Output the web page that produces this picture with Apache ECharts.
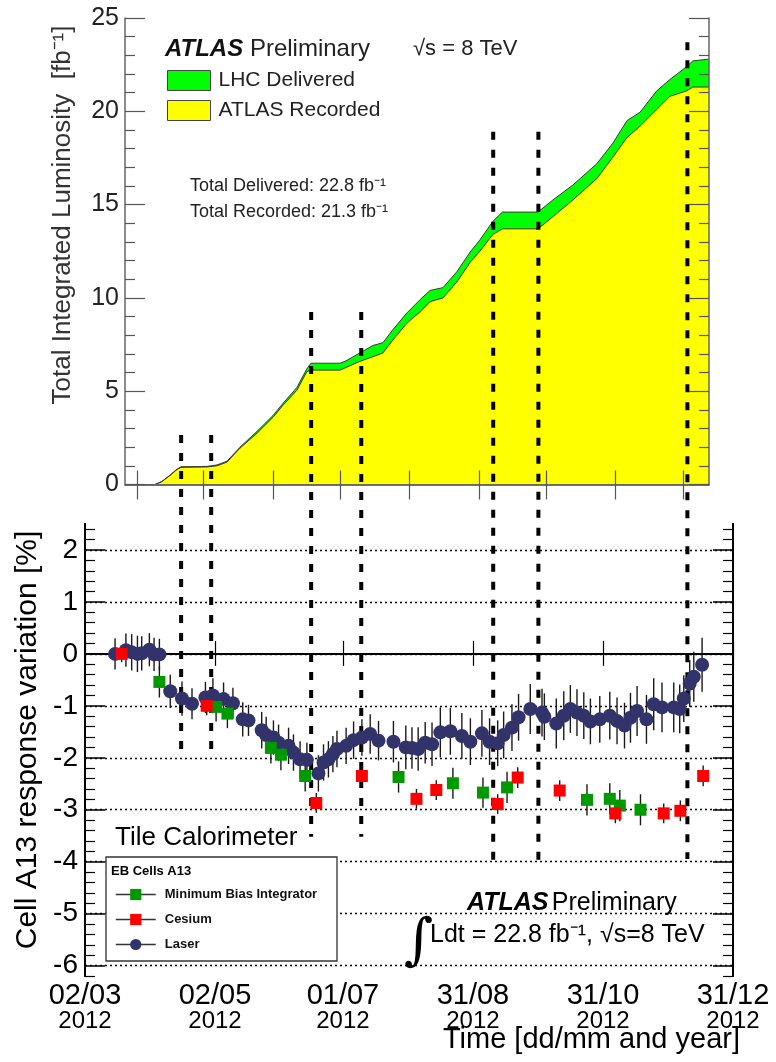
<!DOCTYPE html>
<html><head><meta charset="utf-8">
<script src="https://cdn.jsdelivr.net/npm/echarts@6/dist/echarts.min.js"></script>
<style>html,body{margin:0;padding:0;background:#fff}#c{width:776px;height:1062px}</style>
</head><body><div id="c"></div>
<script>
const FONT = '"Liberation Sans", Arial, Helvetica, sans-serif';

// ---------- Top panel: integrated luminosity (x in days since 02/03/2012) ----------
const lumiDays      = [18.8, 32.9, 36.0, 39.9, 43.2, 45.1, 57.3, 62.0, 66.7, 72.8, 80.8, 88.3, 93.0, 99.5, 104.2, 106.1, 119.7, 122.1, 129.1, 135.2, 139.9, 144.6, 151.2, 157.3, 162.0, 168.1, 174.6, 180.8, 185.4, 191.5, 196.0, 212.7, 219.7, 229.1, 240.4, 247.9, 254.5, 260.6, 268.5, 274.6, 282.6, 285.4, 293.0];
const lumiDelivered = [0, 0, 0.15, 0.5, 0.82, 0.95, 0.97, 1.05, 1.25, 2.0, 2.85, 3.7, 4.35, 5.2, 6.2, 6.5, 6.5, 6.6, 7.05, 7.45, 7.6, 8.3, 9.2, 9.9, 10.4, 10.55, 11.4, 12.45, 13.1, 14.1, 14.6, 14.6, 15.25, 16.05, 17.2, 18.3, 19.5, 19.95, 21.1, 21.7, 22.4, 22.7, 22.8];
const lumiRecorded  = [0, 0, 0.15, 0.48, 0.8, 0.92, 0.94, 1.0, 1.2, 1.95, 2.75, 3.6, 4.25, 5.05, 6.05, 6.13, 6.13, 6.25, 6.6, 6.85, 7.05, 7.75, 8.65, 9.25, 9.8, 10.0, 10.85, 11.9, 12.5, 13.4, 13.7, 13.7, 14.35, 15.25, 16.4, 17.55, 18.6, 19.2, 20.1, 20.8, 21.1, 21.3, 21.3];
const lumiTickDays  = [24.4, 55.6, 88.3, 119.7, 152.1, 185.0, 216.4, 248.8, 280.8];
const lumiYTicks    = [0, 5, 10, 15, 20, 25];

// ---------- Bottom panel: Cell A13 response variation ----------
const laserDays = [14.1,19.2,21.9,24.6,26.6,30.2,32.4,34.9,40.0,45.5,50.2,56.5,60.0,65.0,69.4,74.0,76.7,82.9,85.0,88.4,90.8,95.5,97.8,100.9,104.1,109.5,111.9,114.2,116.3,118.2,122.5,126.0,129.9,133.8,137.7,144.7,150.5,153.4,156.3,159.6,162.8,166.7,171.4,176.8,180.8,186.2,189.8,193.6,196.4,200.3,203.4,208.9,214.4,215.5,221.1,224.6,227.7,230.8,234.0,237.1,241.5,246.2,249.6,253.1,255.9,259.0,263.4,266.8,270.7,276.2,279.0,280.9,283.7,285.6,289.5];
const laserVals = [0.00,0.07,0.03,0.00,0.01,0.08,-0.01,-0.01,-0.72,-0.86,-0.96,-0.84,-0.80,-0.87,-0.95,-1.26,-1.28,-1.47,-1.56,-1.61,-1.71,-1.77,-1.90,-2.03,-2.04,-2.30,-2.09,-2.03,-1.93,-1.83,-1.77,-1.66,-1.61,-1.54,-1.67,-1.69,-1.80,-1.81,-1.83,-1.71,-1.74,-1.51,-1.49,-1.58,-1.69,-1.53,-1.69,-1.72,-1.56,-1.42,-1.22,-1.06,-1.13,-1.21,-1.34,-1.19,-1.06,-1.13,-1.19,-1.30,-1.26,-1.19,-1.29,-1.38,-1.23,-1.10,-1.26,-0.97,-1.03,-1.03,-1.06,-0.86,-0.57,-0.44,-0.21];
const laserErrs = [0.30,0.32,0.35,0.35,0.33,0.32,0.32,0.30,0.32,0.33,0.30,0.30,0.33,0.32,0.30,0.33,0.30,0.35,0.35,0.33,0.35,0.35,0.35,0.35,0.33,0.35,0.35,0.35,0.35,0.35,0.35,0.36,0.35,0.38,0.38,0.40,0.42,0.40,0.42,0.40,0.42,0.48,0.45,0.44,0.45,0.45,0.45,0.44,0.45,0.45,0.45,0.48,0.46,0.45,0.48,0.47,0.46,0.45,0.45,0.44,0.45,0.46,0.45,0.44,0.48,0.48,0.47,0.50,0.48,0.48,0.47,0.45,0.45,0.48,0.52];
const mbiDays = [34.9, 61.5, 66.8, 87.2, 91.9, 103.3, 147.1, 172.6, 186.7, 198.0, 235.5, 246.2, 250.9, 260.6];
const mbiVals = [-0.54, -1.02, -1.15, -1.81, -1.94, -2.35, -2.37, -2.49, -2.67, -2.57, -2.81, -2.79, -2.92, -3.00];
const mbiErrs = [0.30, 0.28, 0.28, 0.30, 0.30, 0.30, 0.30, 0.30, 0.29, 0.30, 0.30, 0.30, 0.30, 0.30];
const csDays = [17.2, 57.1, 108.5, 129.9, 155.5, 164.8, 193.6, 203.0, 222.7, 248.8, 271.5, 279.3, 290.0];
const csVals = [0.00, -1.00, -2.87, -2.35, -2.79, -2.62, -2.89, -2.38, -2.63, -3.07, -3.07, -3.02, -2.35];
const csErrs = [0.16, 0.18, 0.19, 0.19, 0.19, 0.19, 0.19, 0.20, 0.20, 0.19, 0.19, 0.20, 0.20];

const dateTickDays   = [0, 61, 121, 182, 243, 304];
const dateTickLabels = ['02/03', '02/05', '01/07', '31/08', '31/10', '31/12'];
const yearLabels     = ['2012', '2012', '2012', '2012', '2012', '2012'];
const pctTicks       = [-6, -5, -4, -3, -2, -1, 0, 1, 2];

// Dashed event markers (dates)
const eventDays = [45.1, 59.2, 106.1, 129.6, 191.5, 212.7, 282.6];

// ---------- styling / layout ----------
const eventTopLumi  = [2.65, 2.65, 9.25, 9.25, 18.9, 18.9, 23.7];
const eventBotPct   = [-1.91, -1.91, -3.52, -3.52, -4.04, -4.04, -3.95];
const pctMin = -6.2, pctMax = 2.5;
const minorPct = [];
for (let i = Math.round(pctMin * 5); i <= Math.round(pctMax * 5); i++) {
  const v = +(i / 5).toFixed(1);
  if (Math.abs(v - Math.round(v)) > 1e-6) minorPct.push(v);
}

const pairs = (xs, ys) => xs.map((x, i) => [x, ys[i]]);
const bars = (xs, ys, es) => xs.map((x, i) => [x, ys[i] - es[i], ys[i] + es[i]]);

function errSeries(data, z) {
  return {
    type: 'custom', xAxisIndex: 2, yAxisIndex: 2, z: z, silent: true,
    data: data,
    encode: { x: 0, y: [1, 2] },
    renderItem: function (params, api) {
      const p1 = api.coord([api.value(0), api.value(1)]);
      const p2 = api.coord([api.value(0), api.value(2)]);
      return { type: 'line', shape: { x1: p1[0], y1: p1[1], x2: p2[0], y2: p2[1] },
               style: { stroke: '#1a1a1a', lineWidth: 1.4 } };
    }
  };
}

const chart = echarts.init(document.getElementById('c'));

const topAxisLine = { show: true, lineStyle: { color: '#666', width: 1.5 } };
const botAxisLine = { show: true, lineStyle: { color: '#000', width: 2 } };

const option = {
  animation: false,
  backgroundColor: '#fff',
  textStyle: { fontFamily: FONT },
  grid: [
    { left: 125, top: 18, width: 584, height: 466.5, containLabel: false },
    { left: 85, top: 524, width: 648, height: 452, containLabel: false }
  ],
  xAxis: [
    { gridIndex: 0, type: 'value', min: 18.8, max: 293, position: 'bottom', z: 4,
      axisLine: topAxisLine, axisLabel: { show: false }, splitLine: { show: false },
      axisTick: { show: true, inside: true, length: 14, customValues: lumiTickDays, lineStyle: { color: '#555', width: 1.2 } } },
    { gridIndex: 0, type: 'value', min: 18.8, max: 293, position: 'top', z: 4,
      axisLine: topAxisLine, axisLabel: { show: false }, splitLine: { show: false },
      axisTick: { show: true, inside: true, length: 15, customValues: lumiTickDays, lineStyle: { color: '#555', width: 1.2 } } },
    { gridIndex: 1, type: 'value', min: 0, max: 304, position: 'bottom', z: 4,
      axisLine: botAxisLine, splitLine: { show: false },
      axisTick: { show: true, inside: true, length: 13, customValues: dateTickDays, lineStyle: { color: '#000', width: 1.2 } },
      axisLabel: { show: true, customValues: dateTickDays, margin: 6, color: '#000', fontFamily: FONT,
        formatter: function (v) {
          const i = dateTickDays.indexOf(v);
          return '{d|' + dateTickLabels[i] + '}\n{y|' + yearLabels[i] + '}';
        },
        rich: { d: { fontSize: 29, lineHeight: 27, fontFamily: FONT, color: '#000' },
                y: { fontSize: 24, lineHeight: 24, fontFamily: FONT, color: '#000' } } } },
    { gridIndex: 1, type: 'value', min: 0, max: 304, position: 'top', z: 4,
      axisLine: botAxisLine, splitLine: { show: false }, axisLabel: { show: false },
      axisTick: { show: true, inside: true, length: 12, customValues: dateTickDays, lineStyle: { color: '#000', width: 1.2 } } }
  ],
  yAxis: [
    { gridIndex: 0, type: 'value', min: 0, max: 25, interval: 5, position: 'left', z: 4,
      axisLine: topAxisLine, splitLine: { show: false },
      axisLabel: { show: true, customValues: lumiYTicks, fontSize: 25, color: '#222', margin: 6, fontFamily: FONT },
      axisTick: { show: true, inside: true, length: 20, lineStyle: { color: '#555', width: 1.2 } },
      minorTick: { show: true, splitNumber: 5, length: 10, lineStyle: { color: '#555', width: 1.2 } } },
    { gridIndex: 0, type: 'value', min: 0, max: 25, interval: 5, position: 'right', z: 4,
      axisLine: topAxisLine, splitLine: { show: false }, axisLabel: { show: false },
      axisTick: { show: true, inside: true, length: 20, lineStyle: { color: '#555', width: 1.2 } },
      minorTick: { show: true, splitNumber: 5, length: 10, lineStyle: { color: '#555', width: 1.2 } } },
    { gridIndex: 1, type: 'value', min: pctMin, max: pctMax, position: 'left', z: 4,
      axisLine: botAxisLine,
      axisLabel: { show: true, customValues: pctTicks, fontSize: 28, color: '#000', margin: 7, fontFamily: FONT },
      axisTick: { show: true, inside: true, length: 20, customValues: pctTicks, lineStyle: { color: '#000', width: 1.5 } },
      splitLine: { show: true, lineStyle: { color: '#000', width: 1.3, type: [2, 3] } } },
    { gridIndex: 1, type: 'value', min: pctMin, max: pctMax, position: 'left', z: 4,
      axisLine: botAxisLine, axisLabel: { show: false }, splitLine: { show: false },
      axisTick: { show: true, inside: true, length: 10, customValues: minorPct, lineStyle: { color: '#000', width: 1.2 } } },
    { gridIndex: 1, type: 'value', min: pctMin, max: pctMax, position: 'right', z: 4,
      axisLine: botAxisLine, axisLabel: { show: false }, splitLine: { show: false },
      axisTick: { show: true, inside: true, length: 20, customValues: pctTicks, lineStyle: { color: '#000', width: 1.5 } } },
    { gridIndex: 1, type: 'value', min: pctMin, max: pctMax, position: 'right', z: 4,
      axisLine: botAxisLine, axisLabel: { show: false }, splitLine: { show: false },
      axisTick: { show: true, inside: true, length: 10, customValues: minorPct, lineStyle: { color: '#000', width: 1.2 } } }
  ],
  legend: [
    { data: ['LHC Delivered', 'ATLAS Recorded'], orient: 'vertical', left: 167, top: 70,
      icon: 'rect', itemWidth: 43, itemHeight: 20, itemGap: 9, padding: 0, z: 20,
      itemStyle: { borderColor: '#444', borderWidth: 1 },
      textStyle: { fontSize: 21, color: '#222', fontFamily: FONT, padding: [0, 0, 0, 3] } },
    { data: ['Minimum Bias Integrator', 'Cesium', 'Laser'], orient: 'vertical', left: 115, top: 888,
      itemWidth: 40, itemHeight: 14, itemGap: 12, padding: 0, z: 20,
      lineStyle: { color: '#333', width: 1.5, opacity: 1, type: 'solid' },
      itemStyle: { borderWidth: 0 },
      textStyle: { fontSize: 13, fontWeight: 'bold', color: '#111', fontFamily: FONT, padding: [0, 0, 0, 4] } }
  ],
  series: [
    { name: 'LHC Delivered', type: 'line', xAxisIndex: 0, yAxisIndex: 0, z: 1, symbol: 'none',
      data: pairs(lumiDays, lumiDelivered), color: '#00ff00',
      lineStyle: { color: '#3a3a3a', width: 1 }, areaStyle: { color: '#00ff00', opacity: 1 } },
    { name: 'ATLAS Recorded', type: 'line', xAxisIndex: 0, yAxisIndex: 0, z: 1, symbol: 'none',
      data: pairs(lumiDays, lumiRecorded), color: '#ffff00',
      lineStyle: { color: '#3a3a3a', width: 1 }, areaStyle: { color: '#ffff00', opacity: 1 } },
    errSeries(bars(laserDays, laserVals, laserErrs), 5),
    errSeries(bars(mbiDays, mbiVals, mbiErrs), 5),
    errSeries(bars(csDays, csVals, csErrs), 5),
    { name: 'Laser', type: 'line', xAxisIndex: 2, yAxisIndex: 2, z: 6, symbol: 'circle', symbolSize: 14,
      showSymbol: true, color: '#32336a', itemStyle: { color: '#32336a' },
      lineStyle: { opacity: 0, width: 0 }, data: pairs(laserDays, laserVals),
      markLine: { silent: true, symbol: 'none', label: { show: false },
                  lineStyle: { color: '#000', width: 2, type: 'solid' }, data: [{ yAxis: 0 }] } },
    { name: 'Minimum Bias Integrator', type: 'line', xAxisIndex: 2, yAxisIndex: 2, z: 7, symbol: 'rect', symbolSize: 12,
      showSymbol: true, color: '#009a00', itemStyle: { color: '#009a00' },
      lineStyle: { opacity: 0, width: 0 }, data: pairs(mbiDays, mbiVals) },
    { name: 'Cesium', type: 'line', xAxisIndex: 2, yAxisIndex: 2, z: 7, symbol: 'rect', symbolSize: 12,
      showSymbol: true, color: '#ff0000', itemStyle: { color: '#ff0000' },
      lineStyle: { opacity: 0, width: 0 }, data: pairs(csDays, csVals) }
  ]
};
chart.setOption(option);

// ---------- annotations ----------
const g = [];
function txt(x, y, text, extra, z) {
  g.push(Object.assign({ type: 'text', x: x, y: y, z: z || 30, silent: true,
    style: Object.assign({ text: text, fontFamily: FONT, fill: '#000', verticalAlign: 'middle', align: 'left' }, extra) }));
}
// event dashed lines
eventDays.forEach(function (d, i) {
  const x = chart.convertToPixel({ xAxisIndex: 2 }, d);
  const y1 = chart.convertToPixel({ yAxisIndex: 0 }, eventTopLumi[i]);
  const y2 = chart.convertToPixel({ yAxisIndex: 2 }, eventBotPct[i]);
  g.push({ type: 'line', z: 3, silent: true, shape: { x1: x, y1: y1, x2: x, y2: y2 },
           style: { stroke: '#000', lineWidth: 4, lineDash: [8, 10] } });
});
// top panel texts
txt(165, 49, '{a|ATLAS}  {b|Preliminary}', { rich: {
  a: { fontSize: 24, fontWeight: 'bold', fontStyle: 'italic', fontFamily: FONT, fill: '#111' },
  b: { fontSize: 24, fontFamily: FONT, fill: '#222' } } });
txt(413, 49, '√s = 8 TeV', { fontSize: 22, fill: '#222' });
txt(190, 186, 'Total Delivered: 22.8 fb⁻¹', { fontSize: 18, fill: '#222' });
txt(190, 212, 'Total Recorded: 21.3 fb⁻¹', { fontSize: 18, fill: '#222' });
g.push({ type: 'text', x: 63, y: 215, rotation: Math.PI / 2, z: 30, silent: true,
  style: { text: 'Total Integrated Luminosity  [fb⁻¹]', fontSize: 26, fontFamily: FONT, fill: '#333',
           align: 'center', verticalAlign: 'middle' } });
// bottom panel texts
g.push({ type: 'text', x: 28, y: 740, rotation: Math.PI / 2, z: 30, silent: true,
  style: { text: 'Cell A13 response variation [%]', fontSize: 30, fontFamily: FONT, fill: '#000',
           align: 'center', verticalAlign: 'middle' } });
txt(115, 838, 'Tile Calorimeter', { fontSize: 26 });
g.push({ type: 'rect', z: 10, silent: true, shape: { x: 106, y: 857, width: 231, height: 104 },
         style: { fill: '#fff', stroke: '#333', lineWidth: 1.3 } });
txt(111, 871, 'EB Cells A13', { fontSize: 13, fontWeight: 'bold' }, 11);
txt(467, 903, '{a|ATLAS} {b|Preliminary}', { rich: {
  a: { fontSize: 25, fontWeight: 'bold', fontStyle: 'italic', fontFamily: FONT, fill: '#000' },
  b: { fontSize: 25, fontFamily: FONT, fill: '#000' } } });
txt(404, 943, '∫', { fontSize: 56, fontFamily: '"DejaVu Serif", serif' });
txt(430, 935, 'Ldt = 22.8 fb⁻¹, √s=8 TeV', { fontSize: 25 });
txt(740, 1040, 'Time [dd/mm and year]', { fontSize: 29, align: 'right' });

chart.setOption({ graphic: g });
</script>
</body></html>
